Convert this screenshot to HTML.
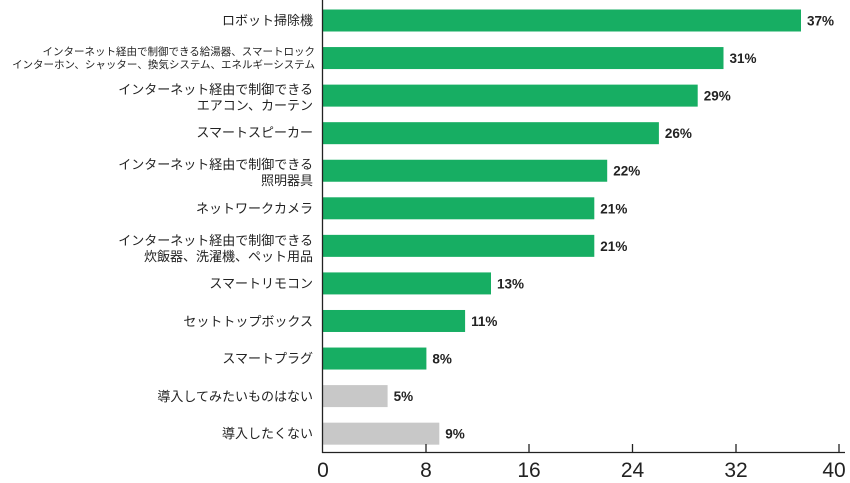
<!DOCTYPE html>
<html><head><meta charset="utf-8"><style>
body{margin:0;background:#fff;width:850px;height:478px;overflow:hidden}
svg text{font-family:"Liberation Sans","Noto Sans CJK JP",sans-serif}
</style></head><body>
<svg width="850" height="478" xmlns="http://www.w3.org/2000/svg">
<g fill="#17ae63">
<rect x="323" y="9.5" width="478" height="22"/>
<rect x="323" y="47.06" width="400.5" height="22"/>
<rect x="323" y="84.62" width="374.7" height="22"/>
<rect x="323" y="122.18" width="335.9" height="22"/>
<rect x="323" y="159.74" width="284.2" height="22"/>
<rect x="323" y="197.3" width="271.3" height="22"/>
<rect x="323" y="234.86" width="271.3" height="22"/>
<rect x="323" y="272.42" width="168" height="22"/>
<rect x="323" y="309.98" width="142.1" height="22"/>
<rect x="323" y="347.54" width="103.4" height="22"/>
</g>
<g fill="#c8c8c8">
<rect x="323" y="385.1" width="64.6" height="22"/>
<rect x="323" y="422.66" width="116.3" height="22"/>
</g>
<g font-size="13.5" font-weight="bold" fill="#222">
<text x="807" y="25.5">37%</text>
<text x="729.5" y="63.06">31%</text>
<text x="703.7" y="100.62">29%</text>
<text x="664.9" y="138.18">26%</text>
<text x="613.2" y="175.74">22%</text>
<text x="600.3" y="213.3">21%</text>
<text x="600.3" y="250.86">21%</text>
<text x="497" y="288.42">13%</text>
<text x="471.1" y="325.98">11%</text>
<text x="432.4" y="363.54">8%</text>
<text x="393.6" y="401.1">5%</text>
<text x="445.3" y="438.66">9%</text>
</g>
<line x1="322.5" y1="0" x2="322.5" y2="453" stroke="#222" stroke-width="1.3"/>
<line x1="322" y1="452.5" x2="845" y2="452.5" stroke="#222" stroke-width="1.3"/>
<g stroke="#222" stroke-width="1.3">
<line x1="426" y1="444" x2="426" y2="453"/><line x1="529" y1="444" x2="529" y2="453"/>
<line x1="632.5" y1="444" x2="632.5" y2="453"/><line x1="736" y1="444" x2="736" y2="453"/>
<line x1="839" y1="444" x2="839" y2="453"/>
</g>
<g font-size="21" fill="#222" text-anchor="middle">
<text x="323" y="477">0</text><text x="426" y="477">8</text><text x="529" y="477">16</text>
<text x="632.5" y="477">24</text><text x="736" y="477">32</text><text x="834" y="477">40</text>
</g>
<g font-size="13" fill="#222" text-anchor="end">
<text x="313" y="25">ロボット掃除機</text>
<text x="315" y="55" font-size="10.5">インターネット経由で制御できる給湯器、スマートロック</text>
<text x="315" y="68" font-size="10.5">インターホン、シャッター、換気システム、エネルギーシステム</text>
<text x="313" y="94">インターネット経由で制御できる</text>
<text x="313" y="110">エアコン、カーテン</text>
<text x="313" y="137">スマートスピーカー</text>
<text x="313" y="169">インターネット経由で制御できる</text>
<text x="313" y="185">照明器具</text>
<text x="313" y="213">ネットワークカメラ</text>
<text x="313" y="245">インターネット経由で制御できる</text>
<text x="313" y="261">炊飯器、洗濯機、ペット用品</text>
<text x="313" y="288">スマートリモコン</text>
<text x="313" y="326">セットトップボックス</text>
<text x="313" y="363">スマートプラグ</text>
<text x="313" y="401">導入してみたいものはない</text>
<text x="313" y="438">導入したくない</text>
</g>
</svg>
</body></html>
